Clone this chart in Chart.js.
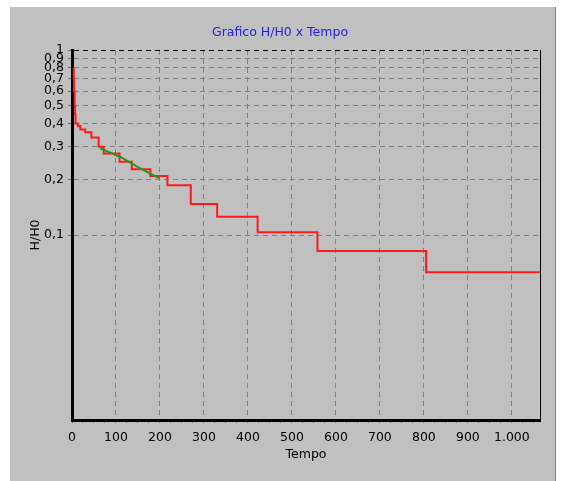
<!DOCTYPE html>
<html>
<head>
<meta charset="utf-8">
<script src="https://cdn.jsdelivr.net/npm/chart.js@4/dist/chart.umd.min.js"></script>
<style>
  html, body { margin: 0; padding: 0; background: #ffffff; }
  canvas { display: block; }
</style>
</head>
<body>
<canvas id="chart" width="567" height="481"></canvas>
<script>
// Measured series: time vs. normalized head H/H0
const redTimes  = [3.5, 4, 4.5, 6, 7, 8, 13.5, 19, 30, 44, 60.5, 72, 108, 136, 178, 217, 270, 330, 422, 558, 805, 1064];
const redValues = [0.80, 0.70, 0.60, 0.50, 0.45, 0.40, 0.388, 0.372, 0.359, 0.337, 0.300, 0.276, 0.249, 0.2265, 0.2085, 0.186, 0.147, 0.1256, 0.1035, 0.0819, 0.0629, 0.0629];

// Fitted segment
const greenTimes  = [64, 110, 150, 199];
const greenValues = [0.294, 0.264, 0.233, 0.2025];

// Axis ticks
const xTickValues = [0, 100, 200, 300, 400, 500, 600, 700, 800, 900, 1000];
const xTickLabels = ['0', '100', '200', '300', '400', '500', '600', '700', '800', '900', '1.000'];
const xMinorStep = 25;
const yTickValues = [1, 0.9, 0.8, 0.7, 0.6, 0.5, 0.4, 0.3, 0.2, 0.1];
const yTickLabels = ['1', '0,9', '0,8', '0,7', '0,6', '0,5', '0,4', '0,3', '0,2', '0,1'];

const xMax = 1064;
const yMin = 0.01;
const yMax = 1;

Chart.defaults.font.family = "'DejaVu Sans', Verdana, sans-serif";
Chart.defaults.font.size = 12.5;
Chart.defaults.color = '#000000';

// Grey window panel behind the chart
const panelPlugin = {
  id: 'panel',
  beforeDraw(chart) {
    const ctx = chart.ctx;
    ctx.save();
    ctx.fillStyle = '#ffffff';
    ctx.fillRect(0, 0, chart.width, chart.height);
    ctx.fillStyle = '#c0c0c0';
    ctx.fillRect(10, 7, 545, chart.height - 7);
    ctx.strokeStyle = '#808080';
    ctx.lineWidth = 1;
    ctx.beginPath();
    ctx.moveTo(555.5, 7);
    ctx.lineTo(555.5, chart.height);
    ctx.stroke();
    ctx.restore();
  }
};

const xTicksAll = [];
for (let v = 0; v <= xMax; v += xMinorStep) xTicksAll.push(v);

const redData = redTimes.map((t, i) => ({x: t, y: redValues[i]}));
const greenData = greenTimes.map((t, i) => ({x: t, y: greenValues[i]}));

new Chart(document.getElementById('chart'), {
  type: 'line',
  data: {
    datasets: [
      {
        label: 'Ajuste',
        data: greenData,
        xAxisID: 'x',
        yAxisID: 'y',
        borderColor: '#1e9a1e',
        borderWidth: 2,
        pointRadius: 0,
        tension: 0,
        fill: false
      },
      {
        label: 'H/H0',
        data: redData,
        xAxisID: 'x',
        yAxisID: 'y',
        borderColor: '#ff1a1a',
        borderWidth: 2,
        pointRadius: 0,
        stepped: true,
        fill: false
      }
    ]
  },
  options: {
    responsive: false,
    animation: false,
    layout: { padding: { left: 0, right: 7, top: 0, bottom: 0 } },
    plugins: {
      legend: { display: false },
      tooltip: { enabled: false },
      title: {
        display: true,
        text: 'Grafico H/H0 x Tempo',
        color: '#2323e0',
        font: { size: 12.5, weight: 'normal' },
        padding: { top: 25, bottom: 10 }
      }
    },
    scales: {
      x: {
        type: 'linear',
        min: 0,
        max: xMax,
        afterFit(scale) { scale.height = 61; },
        afterBuildTicks(scale) { scale.ticks = xTicksAll.map(v => ({value: v})); },
        ticks: {
          autoSkip: false,
          maxRotation: 0,
          minRotation: 0,
          padding: 7,
          color: '#000000',
          callback(value) {
            const i = xTickValues.indexOf(value);
            return i >= 0 ? xTickLabels[i] : '';
          }
        },
        grid: {
          color(ctx) {
            const v = ctx.tick ? ctx.tick.value : null;
            return (v !== null && v > 0 && v % 100 === 0) ? '#808080' : 'rgba(0,0,0,0)';
          },
          lineWidth: 1,
          tickColor: '#707070',
          tickLength: 3,
          tickWidth: 1
        },
        border: { display: true, color: '#000000', width: 3, dash: [5, 4] },
        title: {
          display: true,
          text: 'Tempo',
          color: '#000000',
          padding: { top: 0, bottom: 19 }
        }
      },
      y: {
        type: 'logarithmic',
        position: 'left',
        min: yMin,
        max: yMax,
        afterFit(scale) { scale.width = 72; },
        afterBuildTicks(scale) { scale.ticks = yTickValues.map(v => ({value: v})); },
        ticks: {
          autoSkip: false,
          padding: 4,
          color: '#000000',
          callback(value, index) { return yTickLabels[index]; }
        },
        grid: {
          color(ctx) {
            const v = ctx.tick ? ctx.tick.value : null;
            return v === 1 ? '#000000' : '#808080';
          },
          lineWidth: 1,
          tickColor: '#707070',
          tickLength: 4,
          tickWidth: 1
        },
        border: { display: true, color: '#000000', width: 3, dash: [5, 4] },
        title: {
          display: true,
          text: 'H/H0',
          color: '#000000',
          padding: { top: 28.5, bottom: 0 }
        }
      },
      // right-hand frame edge of the plot
      yRight: {
        type: 'logarithmic',
        position: 'right',
        min: yMin,
        max: yMax,
        afterFit(scale) { scale.width = 20; },
        ticks: { display: false },
        grid: { drawOnChartArea: false, drawTicks: false },
        border: { display: true, color: '#000000', width: 1 }
      }
    }
  },
  plugins: [panelPlugin]
});
</script>
</body>
</html>
